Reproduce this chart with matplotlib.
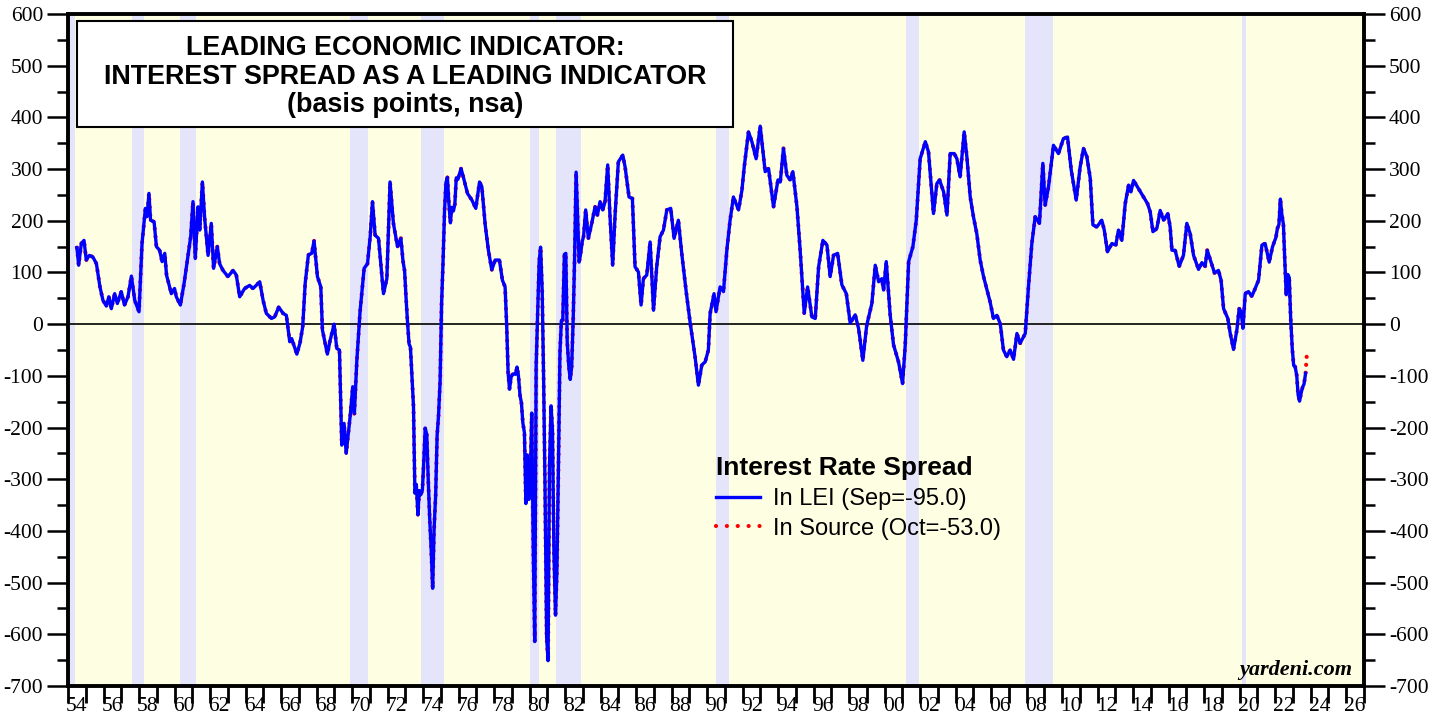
import matplotlib
matplotlib.use("Agg")
import matplotlib.pyplot as plt
from matplotlib.patches import Rectangle
from matplotlib.lines import Line2D
import numpy as np

plt.rcParams["axes.unicode_minus"] = False

# spread: date (decimal year) and value (basis points)
lei_dates = [
    1954.50, 1954.60, 1954.75, 1954.90, 1955.03, 1955.20, 1955.40, 1955.60, 1955.80, 1955.97,
    1956.16, 1956.30, 1956.44, 1956.63, 1956.78, 1957.00, 1957.18, 1957.38, 1957.57, 1957.76,
    1958.00, 1958.17, 1958.36, 1958.45, 1958.56, 1958.65, 1958.85, 1958.98, 1959.16, 1959.30,
    1959.45, 1959.55, 1959.82, 1960.00, 1960.10, 1960.33, 1960.54, 1960.76, 1960.91, 1961.04,
    1961.17, 1961.32, 1961.42, 1961.57, 1961.70, 1961.89, 1962.07, 1962.20, 1962.41, 1962.54,
    1962.73, 1963.01, 1963.30, 1963.48, 1963.67, 1963.95, 1964.23, 1964.42, 1964.60, 1964.80,
    1964.99, 1965.17, 1965.46, 1965.64, 1965.87, 1966.11, 1966.30, 1966.49, 1966.60, 1966.89,
    1967.07, 1967.22, 1967.36, 1967.54, 1967.73, 1967.86, 1968.05, 1968.24, 1968.33, 1968.61,
    1968.76, 1968.99, 1969.14, 1969.29, 1969.42, 1969.55, 1969.67, 1969.89, 1970.04, 1970.13,
    1970.27, 1970.45, 1970.68, 1970.87, 1971.02, 1971.15, 1971.30, 1971.49, 1971.77, 1971.96,
    1972.14, 1972.33, 1972.56, 1972.75, 1972.87, 1972.96,
    1973.04, 1973.12, 1973.21, 1973.29, 1973.37, 1973.46, 1973.54, 1973.62, 1973.71, 1973.79, 1973.87, 1973.96,
    1974.04, 1974.12, 1974.21, 1974.29, 1974.37, 1974.46, 1974.54, 1974.62, 1974.71, 1974.79, 1974.87, 1974.96,
    1975.04, 1975.12, 1975.21, 1975.29, 1975.37, 1975.46, 1975.54, 1975.62, 1975.71, 1975.79, 1975.87, 1975.96,
    1976.14, 1976.31, 1976.50, 1976.75, 1976.97, 1977.18, 1977.31, 1977.50, 1977.68, 1977.87,
    1978.06, 1978.30, 1978.47, 1978.62, 1978.71, 1978.79, 1978.87, 1978.96,
    1979.04, 1979.12, 1979.21, 1979.29, 1979.37, 1979.46, 1979.54, 1979.62, 1979.71, 1979.79, 1979.87, 1979.96,
    1980.04, 1980.12, 1980.21, 1980.29, 1980.37, 1980.46, 1980.54, 1980.62, 1980.71, 1980.79, 1980.87, 1980.96,
    1981.04, 1981.12, 1981.21, 1981.29, 1981.37, 1981.46, 1981.54, 1981.62, 1981.71, 1981.79, 1981.87, 1981.96,
    1982.04, 1982.12, 1982.21, 1982.29, 1982.37, 1982.46, 1982.54, 1982.62, 1982.71, 1982.79, 1982.87, 1982.96,
    1983.04, 1983.16, 1983.31, 1983.50, 1983.69, 1983.82, 1983.97, 1984.12, 1984.25, 1984.40,
    1984.53, 1984.68, 1984.82, 1985.00, 1985.25, 1985.38, 1985.60, 1985.79, 1985.94, 1986.13,
    1986.28, 1986.41, 1986.60, 1986.79, 1986.98, 1987.16, 1987.35, 1987.54, 1987.73, 1987.95,
    1988.14, 1988.38, 1988.57, 1988.82, 1989.04, 1989.32, 1989.51, 1989.70, 1989.89, 1990.07,
    1990.17, 1990.39, 1990.50, 1990.73, 1990.92, 1991.11, 1991.29, 1991.48, 1991.77, 1991.96,
    1992.09, 1992.33, 1992.52, 1992.76, 1992.99, 1993.27, 1993.46, 1993.74, 1993.99, 1994.12,
    1994.30, 1994.49, 1994.68, 1994.83, 1995.06, 1995.24, 1995.47, 1995.66, 1995.90, 1996.09,
    1996.28, 1996.52, 1996.75, 1996.93, 1997.12, 1997.35, 1997.59, 1997.84, 1998.06, 1998.34,
    1998.53, 1998.77, 1998.99, 1999.28, 1999.47, 1999.66, 1999.84, 1999.94, 2000.09, 2000.31,
    2000.50, 2000.78, 2001.01, 2001.16, 2001.35, 2001.59, 2001.78, 2002.00, 2002.29, 2002.47,
    2002.75, 2002.94, 2003.09, 2003.32, 2003.51, 2003.69, 2003.92, 2004.07, 2004.25, 2004.48,
    2004.63, 2004.82, 2005.00, 2005.19, 2005.38, 2005.57, 2005.79, 2005.94, 2006.13, 2006.32,
    2006.51, 2006.69, 2006.88, 2007.07, 2007.26, 2007.45, 2007.63, 2007.92, 2008.10, 2008.29,
    2008.48, 2008.72, 2008.91, 2009.04, 2009.23, 2009.51, 2009.79, 2010.07, 2010.30, 2010.51,
    2010.79, 2011.01, 2011.20, 2011.39, 2011.58, 2011.73, 2011.95, 2012.23, 2012.37, 2012.55,
    2012.80, 2013.02, 2013.17, 2013.36, 2013.55, 2013.74, 2013.87, 2014.02, 2014.30, 2014.58,
    2014.81, 2014.96, 2015.11, 2015.33, 2015.52, 2015.71, 2015.95, 2016.08, 2016.18, 2016.36,
    2016.59, 2016.83, 2017.02, 2017.21, 2017.40, 2017.68, 2017.87, 2018.05, 2018.17, 2018.34,
    2018.58, 2018.80, 2018.95, 2019.09, 2019.33, 2019.46, 2019.65, 2019.84, 2019.97, 2020.08,
    2020.18, 2020.31, 2020.49, 2020.68, 2020.87, 2021.06, 2021.25, 2021.43, 2021.66, 2021.85,
    2022.04, 2022.12, 2022.21, 2022.29, 2022.37, 2022.46, 2022.54, 2022.62, 2022.71, 2022.79, 2022.87, 2022.96,
    2023.04, 2023.12, 2023.21, 2023.29, 2023.37, 2023.46, 2023.54, 2023.62, 2023.71,
]
lei_values = [
    148, 114, 156, 162, 124, 133, 130, 117, 72, 46,
    35, 53, 30, 59, 40, 63, 37, 53, 93, 46,
    24, 156, 224, 208, 253, 201, 198, 150, 143, 121,
    137, 95, 59, 69, 53, 37, 79, 133, 169, 237,
    127, 227, 182, 275, 204, 133, 195, 108, 150, 117,
    104, 92, 104, 95, 53, 69, 75, 69, 75, 82,
    46, 21, 11, 14, 33, 21, 17, -34, -28, -58,
    -36, -5, 79, 134, 137, 161, 92, 72, -11, -58,
    -32, 0, -47, -50, -234, -192, -250, -179, -121, -173,
    -70, 24, 108, 117, 169, 237, 172, 166, 59, 88,
    275, 195, 150, 166, 122, 103,
    52, 6, -38, -45, -99, -159, -327, -310, -369, -322, -330, -321,
    -266, -201, -214, -300, -373, -439, -511, -397, -330, -216, -177, -110,
    37, 115, 219, 274, 284, 231, 196, 226, 219, 232, 283, 280,
    301, 279, 253, 240, 224, 275, 266, 192, 143, 105,
    124, 124, 85, 72, -3, -94, -126, -102,
    -97, -96, -97, -83, -99, -138, -152, -191, -210, -347, -253, -339,
    -302, -172, -444, -614, -80, 31, 122, 149, 64, -106, -317, -606,
    -651, -274, -158, -204, -442, -563, -476, -288, -55, 7, 8, 135,
    137, -35, -82, -107, -83, 15, 136, 294, 203, 120, 135, 159,
    170, 221, 166, 195, 227, 211, 237, 221, 237, 308,
    208, 114, 214, 314, 327, 304, 246, 243, 111, 101,
    37, 88, 95, 159, 27, 111, 169, 182, 221, 224,
    166, 201, 137, 63, 4, -63, -118, -79, -73, -50,
    21, 59, 24, 72, 63, 143, 200, 246, 221, 259,
    304, 372, 353, 320, 383, 295, 301, 227, 279, 275,
    340, 288, 279, 295, 227, 143, 21, 72, 14, 11,
    111, 162, 153, 92, 133, 137, 76, 59, 2, 18,
    -8, -70, -2, 40, 114, 82, 88, 66, 121, 18,
    -40, -73, -115, -40, 121, 150, 201, 320, 353, 333,
    214, 272, 279, 256, 211, 330, 330, 320, 285, 372,
    324, 246, 208, 175, 124, 92, 63, 43, 11, 17,
    1, -50, -63, -50, -68, -18, -37, -18, 72, 156,
    208, 195, 311, 230, 266, 346, 330, 359, 362, 298,
    240, 304, 340, 324, 282, 192, 188, 201, 182, 140,
    156, 153, 182, 162, 233, 269, 256, 278, 262, 246,
    233, 217, 179, 185, 220, 201, 214, 188, 143, 143,
    112, 133, 195, 175, 133, 106, 119, 112, 143, 125,
    99, 104, 85, 30, 11, -17, -49, -11, 30, 24,
    -8, 59, 63, 54, 69, 85, 153, 156, 120, 150,
    168, 185, 193, 242, 213, 193, 122, 57, 96, 90, 11, -48,
    -80, -82, -99, -137, -149, -133, -122, -116, -95,
]
# the source series runs one month further (Oct 2023)
src_extra_date = 2023.79
src_extra_value = -53

# recession bands (decimal years)
rec_start = [1953.6, 1957.6, 1960.3, 1969.9, 1973.9, 1980.0, 1981.5, 1990.5, 2001.2, 2007.9, 2020.1]
rec_end = [1954.4, 1958.3, 1961.2, 1970.9, 1975.2, 1980.55, 1982.9, 1991.25, 2001.95, 2009.5, 2020.35]

src_dates = lei_dates + [src_extra_date]
src_values = lei_values + [src_extra_value]

serif = "Liberation Serif"
sans = "Liberation Sans"

fig = plt.figure(figsize=(14.39, 7.17), dpi=100)
ax = fig.add_axes([68 / 1439, 1 - 686 / 717, 1296 / 1439, 672 / 717])
ax.set_facecolor("#FEFEE2")

for s, e in zip(rec_start, rec_end):
    ax.axvspan(s, e, color="#E4E4FA", lw=0, zorder=1)

ax.axhline(0, color="black", lw=1.2, zorder=2)

ax.plot(src_dates, src_values, color="red", lw=3, linestyle=(0, (0.01, 1.9)),
        dash_capstyle="round", zorder=3)
ax.plot(lei_dates, lei_values, color="#0000FF", lw=2.4, zorder=4)

ax.set_xlim(1954, 2027)
ax.set_ylim(-700, 600)

# x axis: a tick each year, labels every other year centred mid-year
ax.set_xticks(np.arange(1954, 2028, 1))
ax.set_xticklabels([])
ax.set_xticks(np.arange(1954.5, 2027, 2), minor=True)
ax.set_xticklabels(["%02d" % (int(y) % 100) for y in np.arange(1954, 2027, 2)], minor=True)
ax.tick_params(axis="x", which="major", direction="out", length=12, width=2)
ax.tick_params(axis="x", which="minor", length=0, pad=8, labelsize=15.5)

ax.set_yticks(np.arange(-700, 601, 100))
ax.set_yticks(np.arange(-650, 600, 100), minor=True)
ax.tick_params(axis="y", which="major", direction="out", length=15, width=1.8,
               labelsize=15.5, left=True, right=True, labelleft=True, labelright=True, pad=3)
ax.tick_params(axis="y", which="minor", direction="out", length=8, width=1.8,
               left=True, right=True)
for lab in ax.get_xticklabels(minor=True) + ax.get_yticklabels():
    lab.set_fontfamily(serif)

for sp in ax.spines.values():
    sp.set_linewidth(2.8)

# title box
ax.add_patch(Rectangle((0.0069, 0.832), 0.506, 0.1577, transform=ax.transAxes,
                       facecolor="white", edgecolor="black", lw=1.5, zorder=6))
title_lines = ["LEADING ECONOMIC INDICATOR:",
               "INTEREST SPREAD AS A LEADING INDICATOR",
               "(basis points, nsa)"]
for txt, yy in zip(title_lines, [0.949, 0.906, 0.865]):
    ax.text(0.26, yy, txt, transform=ax.transAxes, ha="center", va="center",
            fontsize=19.4, fontweight="bold", family=sans, zorder=7)

# legend
handles = [Line2D([], [], color="#0000FF", lw=2.4),
           Line2D([], [], color="red", lw=3, linestyle=(0, (0.01, 2.6)), dash_capstyle="round")]
leg = ax.legend(handles, ["In LEI (Sep=-95.0)", "In Source (Oct=-53.0)"],
                title="Interest Rate Spread", loc="upper left",
                bbox_to_anchor=((716 - 68) / 1296, (686 - 456) / 672),
                frameon=False, borderpad=0, borderaxespad=0, handlelength=1.85,
                handletextpad=0.55, labelspacing=0.33, alignment="left",
                prop={"family": sans, "size": 17},
                title_fontproperties={"family": sans, "size": 19, "weight": "bold"})
leg.set_zorder(8)

ax.text(0.9907, 0.024, "yardeni.com", transform=ax.transAxes, ha="right", va="center",
        fontsize=16, fontweight="bold", fontstyle="italic", family=serif, zorder=7)

fig.savefig("out.png", dpi=100)
